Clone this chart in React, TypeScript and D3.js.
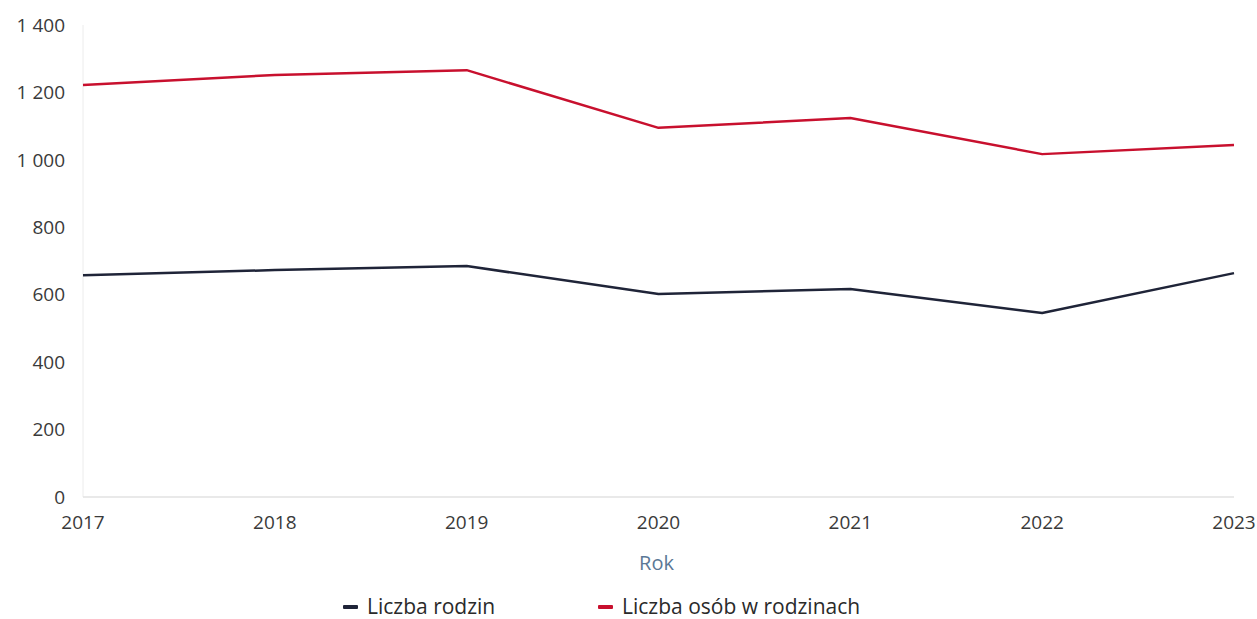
import React, { useRef, useEffect } from "react";
import * as d3 from "d3";

const years = [2017, 2018, 2019, 2020, 2021, 2022, 2023];
const rodziny = [658, 673, 685, 602, 617, 546, 664];
const osoby = [1222, 1252, 1266, 1095, 1124, 1017, 1044];
const yTicks = [0, 200, 400, 600, 800, 1000, 1200, 1400];

const seriesNames = ["Liczba rodzin", "Liczba osób w rodzinach"];
const seriesColors = ["#1f2438", "#c8102e"];

const W = 1257;
const H = 619;
const margin = { top: 25, right: 23, bottom: 122, left: 83 };

const fmt = (v: number) => d3.format(",")(v).replace(/,/g, " ");

const App = () => {
  const gRef = useRef<SVGGElement>(null);
  const width = W - margin.left - margin.right;
  const height = H - margin.top - margin.bottom;

  useEffect(() => {
    const g = d3.select(gRef.current);
    g.selectAll("*").remove();

    const x = d3.scaleLinear().domain([2017, 2023]).range([0, width]);
    const y = d3.scaleLinear().domain([0, 1400]).range([height, 0]);

    // axes
    g.append("line")
      .attr("x1", 0).attr("x2", 0)
      .attr("y1", 0).attr("y2", height)
      .attr("stroke", "#ececec");
    g.append("line")
      .attr("x1", 0).attr("x2", width)
      .attr("y1", height).attr("y2", height)
      .attr("stroke", "#e2e2e2")
      .attr("stroke-width", 1.5);

    g.selectAll(".ylab")
      .data(yTicks)
      .join("text")
      .attr("x", -18)
      .attr("y", (d) => y(d))
      .attr("dy", "0.35em")
      .attr("text-anchor", "end")
      .attr("font-size", 19)
      .attr("fill", "#3a3a3a")
      .text((d) => fmt(d));

    g.selectAll(".xlab")
      .data(years)
      .join("text")
      .attr("x", (d) => x(d))
      .attr("y", height + 25)
      .attr("dy", "0.35em")
      .attr("text-anchor", "middle")
      .attr("font-size", 19)
      .attr("fill", "#3a3a3a")
      .text((d) => String(d));

    g.append("text")
      .attr("x", width / 2 - 2)
      .attr("y", height + 66)
      .attr("dy", "0.35em")
      .attr("text-anchor", "middle")
      .attr("font-size", 20)
      .attr("fill", "#5b7896")
      .text("Rok");

    const myLine = d3.line<number>()
      .x((_, i) => x(years[i]))
      .y((v) => y(v));

    [rodziny, osoby].forEach((data, i) => {
      g.append("path")
        .datum(data)
        .attr("d", myLine)
        .attr("fill", "none")
        .attr("stroke", seriesColors[i])
        .attr("stroke-width", 2.5)
        .attr("stroke-linejoin", "round");
    });

    // legend
    const legendX = [260, 515];
    const legend = g.selectAll(".leg")
      .data(seriesNames)
      .join("g")
      .attr("transform", (_, i) => `translate(${legendX[i]},${height + 110})`);
    legend.append("rect")
      .attr("x", 0).attr("y", -2)
      .attr("width", 15).attr("height", 4)
      .attr("rx", 1)
      .attr("fill", (_, i) => seriesColors[i]);
    legend.append("text")
      .attr("x", 24)
      .attr("dy", "0.35em")
      .attr("font-size", 21)
      .attr("fill", "#2a2a2a")
      .text((d) => d);
  }, []);

  return (
    <svg
      width={W}
      height={H}
      style={{ position: "absolute", left: 0, top: 0, background: "#fff" }}
      fontFamily="'Open Sans', sans-serif"
    >
      <g ref={gRef} transform={`translate(${margin.left}, ${margin.top})`} />
    </svg>
  );
};

export default App;
